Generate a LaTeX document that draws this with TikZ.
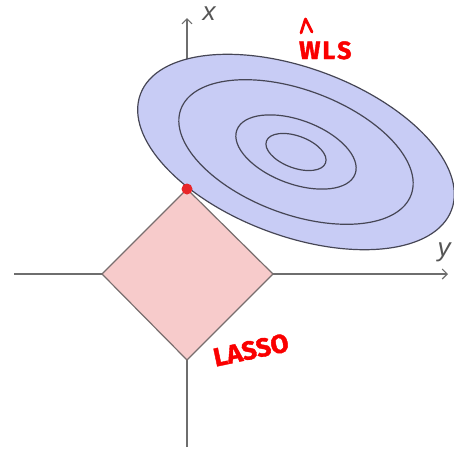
\documentclass[tikz,border=0pt]{standalone}
\usepackage{fontspec}
\setmainfont{Liberation Sans}
\newfontfamily\handfont[FakeBold=1.5]{Fira Sans}
\usetikzlibrary{arrows.meta}
\definecolor{axisgray}{RGB}{110,110,110}
\definecolor{labelgray}{RGB}{85,85,85}
\definecolor{ellfill}{RGB}{200,204,245}
\definecolor{ellline}{RGB}{70,70,85}
\definecolor{lassofill}{RGB}{247,203,203}
\definecolor{lassoline}{RGB}{120,110,110}
\definecolor{dotred}{RGB}{232,38,42}
\definecolor{inkred}{RGB}{250,0,0}
\begin{document}
\begin{tikzpicture}[x=1pt,y=1pt,
 axis/.style={draw=axisgray, line width=1.1pt, -{Straight Barb[length=5pt,width=10pt]}},
 contour/.style={draw=ellline, line width=1.2pt},
 axlabel/.style={text=labelgray, font=\itshape\fontsize{26}{26}\selectfont, inner sep=0pt},
 ink/.style={text=inkred, font=\handfont\bfseries\fontsize{25}{25}\selectfont, inner sep=0pt},
 lassobox/.style={fill=lassofill, draw=lassoline, line width=1.2pt, line join=round},
 dotmark/.style={circle, fill=dotred, minimum size=11pt, inner sep=0pt}]
\useasboundingbox (0,0) rectangle (454,-451);
% axes
\coordinate (xbot) at (187,-447);
\coordinate (xtop) at (187,-18);
\coordinate (yl) at (14,-274);
\coordinate (yr) at (448,-274);
\draw[axis] (xbot) -- (xtop);
\draw[axis] (yl) -- (yr);
\node[axlabel] (xlab) at (209,-14) {x};
\node[axlabel] (ylab) at (444,-252) {y};
% ellipse contours
\coordinate (c) at (296,-152);
\fill[ellfill, rotate around={-20.4:(c)}] (c) ellipse [x radius=166pt, y radius=84pt];
\foreach \s in {1,0.74,0.38,0.19}
  \draw[contour, rotate around={-20.4:(c)}] (c) ellipse [x radius=\s*166pt, y radius=\s*84pt];
% lasso diamond
\coordinate (dt) at (187,-189);
\coordinate (dr) at (273,-274);
\coordinate (db) at (187,-360);
\coordinate (dl) at (102,-274);
\draw[lassobox] (dt) -- (dr) -- (db) -- (dl) -- cycle;
\node[dotmark] (dot) at (dt) {};
% handwritten labels
\draw[inkred, line width=2.8pt, line cap=round, line join=round] (301,-33) -- (305.5,-19) -- (312,-32);
\node[ink, anchor=base west] (wls) at (299,-59) {W\kern2pt L\kern2pt S};
\node[ink, rotate=12, font=\handfont\bfseries\fontsize{26}{26}\selectfont] (lasso) at (251,-350) {LASSO};
\end{tikzpicture}
\end{document}
